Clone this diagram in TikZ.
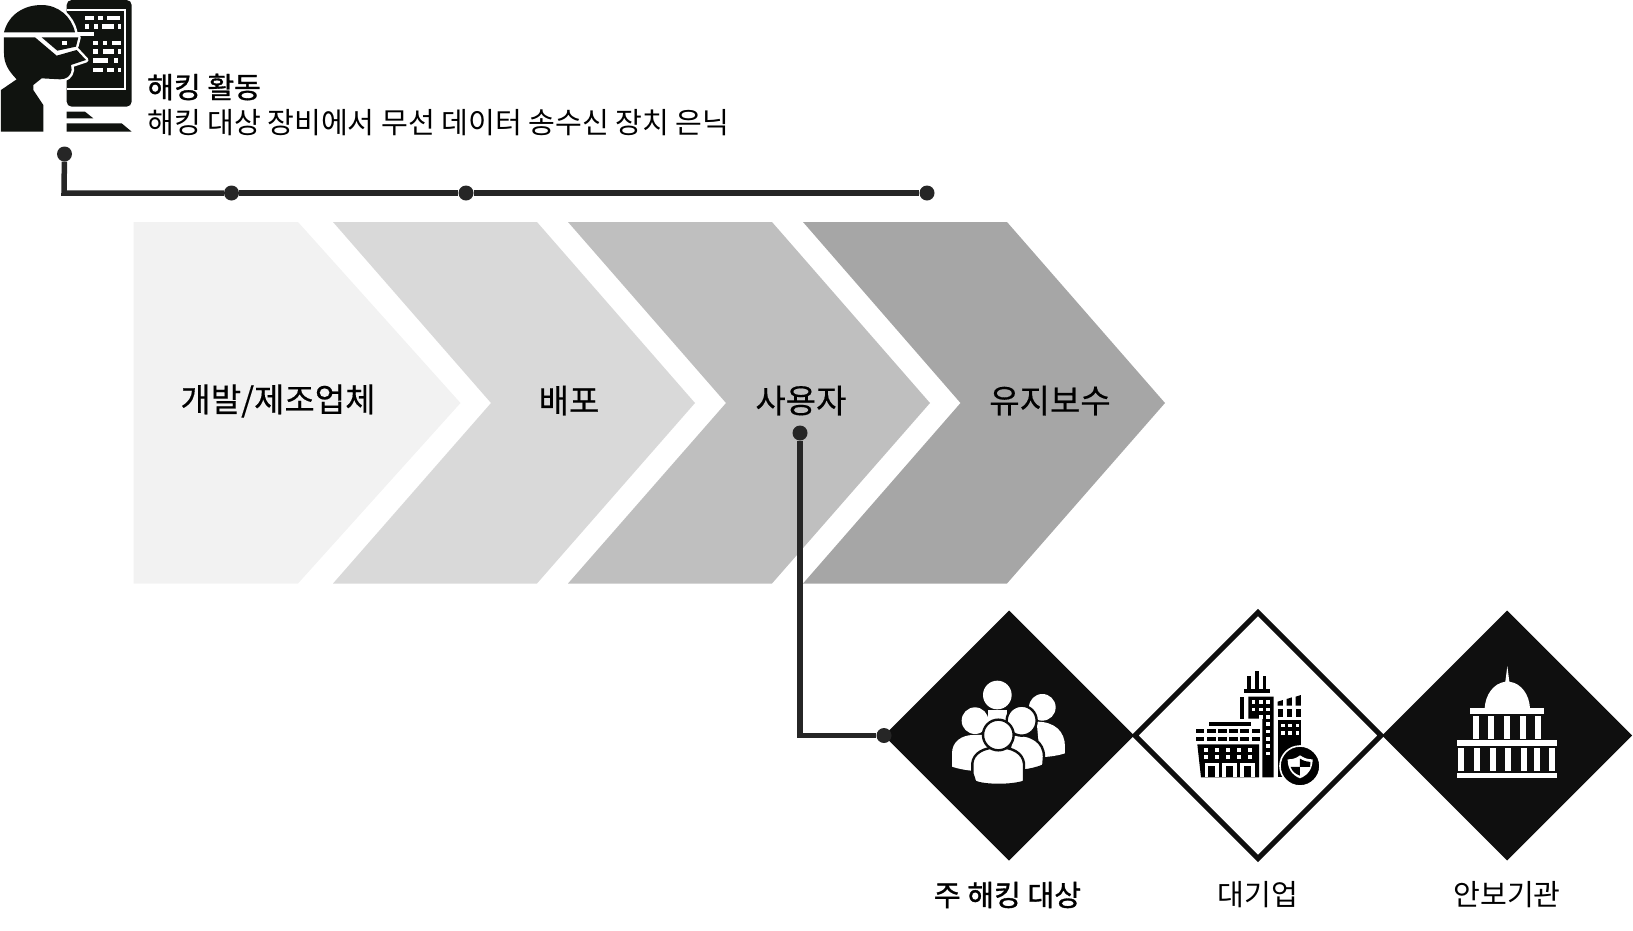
\documentclass[tikz,border=0pt]{standalone}
\usepackage{fontspec}
\setmainfont{Noto Sans CJK KR}
\newfontfamily\labelfont[FakeBold=0.35]{Noto Sans CJK KR}
\newfontfamily\titlefont[FakeBold=1.1]{Noto Sans CJK KR}
\usetikzlibrary{shapes.geometric}
\definecolor{iconblack}{HTML}{10130F}
\definecolor{shapeblack}{HTML}{0F0F0F}
\definecolor{linegray}{HTML}{262626}
\tikzset{
  dotnode/.style={circle,fill=linegray,inner sep=0pt,minimum size=15pt},
  link/.style={draw=linegray,line width=5.5pt,line join=miter},
  chevlabel/.style={font=\fontsize{33}{33}\labelfont,inner sep=0pt},
  biglabel/.style={font=\fontsize{29.15}{29}\selectfont,inner sep=0pt},
  titlelabel/.style={font=\fontsize{29.15}{29}\titlefont,inner sep=0pt},
  halo/.style={fill=iconblack,preaction={draw=white,line width=5pt,line join=round}},
  blackdiamond/.style={diamond,aspect=1,fill=shapeblack,inner sep=0pt,outer sep=0pt,minimum size=250pt},
  whitediamond/.style={diamond,aspect=1,draw=shapeblack,fill=white,line width=5pt,inner sep=0pt,outer sep=0pt,minimum size=246pt},
}
\begin{document}
\begin{tikzpicture}[x=1pt,y=-1pt]
  \useasboundingbox (0,0) rectangle (1633,930);
  % process chevrons
  \fill[black!5] (133.5,222) -- (298,222) -- (460.5,403) -- (298,583.5) -- (133.5,583.5) -- cycle;
  \fill[black!15] (333,222) -- (537,222) -- (695,403) -- (537,583.5) -- (333,583.5) -- (491,403) -- cycle;
  \fill[black!25] (568,222) -- (772,222) -- (930,403) -- (772,583.5) -- (568,583.5) -- (726,403) -- cycle;
  \fill[black!35] (803,222) -- (1007,222) -- (1165,403) -- (1007,583.5) -- (803,583.5) -- (960.5,403) -- cycle;
  \node[chevlabel] (maker) at (278,401) {개발/제조업체};
  \node[chevlabel] (deploy) at (569,400.5) {배포};
  \node[chevlabel] (user) at (801,400.5) {사용자};
  \node[chevlabel] (repair) at (1050,400.5) {유지보수};
  % hacking text
  \node[titlelabel,anchor=west] (hacktitle) at (147,87) {해킹 활동};
  \node[biglabel,anchor=west] (hacktext) at (147,122.5) {해킹 대상 장비에서 무선 데이터 송수신 장치 은닉};
  % target diamonds
  \node[blackdiamond] (main) at (1009,735.5) {};
  \node[whitediamond] (corp) at (1258,735.5) {};
  \node[blackdiamond] (gov) at (1507,735.5) {};
  \node[titlelabel] (maintext) at (1007.5,895) {주 해킹 대상};
  \node[biglabel] (corptext) at (1258,895) {대기업};
  \node[biglabel] (govtext) at (1507,895) {안보기관};
  % hacker icon
  \begin{scope}[x=0.3333pt,y=-0.3333pt,fill=iconblack]
    \fill[rounded corners=5pt] (200,0) -- (395,0) -- (395,320) -- (200,320) -- cycle;
    \draw[white,line width=2pt] (200,30) -- (375,30) -- (375,266) -- (200,266);
    \foreach \x/\y/\w in {255/47/27,295/47/13,322/47/38,255/73/13,282/73/13,307/73/36,355/73/7,280/122/15,308/122/14,335/122/27,280/148/15,308/148/35,355/148/7,280/175/45,342/175/13,280/203/28,320/203/23,355/203/7}
      \fill[white] (\x,\y) rectangle ++(\w,13);
    \fill[white] (225,97) rectangle (282,107);
    \fill (200,335) -- (255,335) -- (280,355) -- (200,355) -- cycle;
    \fill (200,370) -- (365,370) -- (395,395) -- (200,395) -- cycle;
    \path[halo] (3,395) -- (3,270) -- (50,238) .. controls (25,212) and (12,190) .. (12,160) -- (12,112)
      -- (105,112) -- (170,167) -- (230,150) -- (258,180) -- (213,195) -- (215,210) .. controls (212,228) and (200,238) .. (180,238)
      -- (125,235) -- (100,255) -- (100,270) -- (130,315) -- (130,395) -- cycle;
    \path[halo] (12,97) .. controls (25,45) and (70,15) .. (125,15) .. controls (175,15) and (215,50) .. (225,97) -- cycle;
    \path[halo] (125,112) -- (235,112) -- (228,140) -- (172,152) -- cycle;
    \fill[white] (185,122) rectangle (200,135);
  \end{scope}
  % users icon
  \begin{scope}[shift={(880,600)},x=0.3333pt,y=-0.3333pt]
    \fill[white] (487,322) circle (40);
    \fill[white] (470,365) .. controls (525,365) and (555,395) .. (555,440) -- (555,460) .. controls (530,468) and (510,470) .. (480,472) -- cycle;
    \fill[white] (352,285) circle (43);
    \fill[white] (325,330) rectangle (380,375);
    \fill[white] (285,362) circle (40);
    \fill[white] (216,500) -- (216,460) .. controls (216,425) and (245,405) .. (280,405) -- (330,405) -- (330,515) .. controls (285,515) and (245,510) .. (216,500) -- cycle;
    \fill[white,draw=shapeblack,line width=2.4pt] (400,403) .. controls (455,403) and (492,425) .. (492,470) -- (490,497) .. controls (470,505) and (450,510) .. (420,513) -- (380,480) -- cycle;
    \fill[white,draw=shapeblack,line width=2.4pt] (425,362) circle (45);
    \fill[white,draw=shapeblack,line width=2.4pt] (277,520) -- (277,490) .. controls (280,460) and (310,442) .. (355,442) .. controls (400,442) and (428,460) .. (432,490) -- (432,545) .. controls (400,558) and (310,558) .. (285,545) -- (277,520) -- cycle;
    \fill[white,draw=shapeblack,line width=2.4pt] (355,405) circle (46);
  \end{scope}
  % building icon
  \begin{scope}[shift={(1130,640)},x=0.3333pt,y=-0.3333pt,fill=black]
    \fill (350,148) rectangle (362,108);
    \fill (376,148) rectangle (387,93);
    \fill (398,148) rectangle (409,108);
    \fill (343,148) rectangle (421,160);
    \fill (331,170) rectangle (343,236);
    \fill (355,170) -- (431,170) -- (431,412) -- (397,412) -- (397,236) -- (355,236) -- cycle;
    \foreach \y in {180,203} \foreach \x in {365,387,409} \fill[white] (\x,\y) rectangle ++(11,11);
    \foreach \y in {225} \foreach \x in {387,409} \fill[white] (\x,\y) rectangle ++(11,11);
    \foreach \y in {247,269,291,313,335} \fill[white] (409,\y) rectangle ++(11,11);
    \fill (443,185) -- (459,180) -- (459,197) -- (443,197) -- cycle;
    \fill (470,177) -- (486,172) -- (486,197) -- (470,197) -- cycle;
    \fill (497,170) -- (513,165) -- (513,197) -- (497,197) -- cycle;
    \foreach \x in {443,470,497} \fill (\x,208) rectangle ++(16,22);
    \fill (443,241) rectangle (513,412);
    \foreach \y in {251,273} \foreach \x in {453,475,497} \fill[white] (\x,\y) rectangle ++(11,11);
    \fill (236,246) rectangle (364,258);
    \foreach \x in {197,232,265,298,331,365} {
      \fill (\x,268) rectangle ++(25,11);
      \fill (\x,291) rectangle ++(25,11);
    }
    \fill (202,313) -- (387,313) -- (387,412) -- (213,412) -- cycle;
    \foreach \y in {323,345} \foreach \x in {221,254,287,320,353} \fill[white] (\x,\y) rectangle ++(12,12);
    \fill[white] (224,368) rectangle (376,412);
    \foreach \x in {234,288,342} \fill (\x,379) rectangle ++(22,33);
    \foreach \x in {267,321} \fill (\x,368) rectangle ++(10,44);
    \fill[draw=white,line width=1.6pt] (510,378) circle (60);
    \fill[white] (510,346) .. controls (525,356) and (535,358) .. (548,358) .. controls (548,385) and (535,405) .. (510,415) .. controls (485,405) and (473,385) .. (473,358) .. controls (486,358) and (498,356) .. (510,346) -- cycle;
    \fill (510,356) -- (510,381) -- (540,381) .. controls (541,375) and (541,370) .. (541,366) .. controls (530,366) and (520,362) .. (510,356) -- cycle;
    \fill (482,381) .. controls (487,395) and (497,402) .. (510,407) -- (510,381) -- cycle;
  \end{scope}
  % capitol icon
  \begin{scope}[shift={(1400,640)},x=0.3333pt,y=-0.3333pt,fill=white]
    \fill (322,78) -- (328,125) .. controls (365,130) and (388,165) .. (390,205) -- (254,205) .. controls (256,165) and (280,130) .. (316,125) -- cycle;
    \fill (211,205) rectangle (432,222);
    \foreach \x in {219,265,312,359,405} \fill (\x,228) rectangle ++(18,68);
    \fill (171,301) rectangle (471,318);
    \foreach \x in {175,221,270,316,362,403,448} \fill (\x,324) rectangle ++(18,68);
    \fill (171,398) rectangle (471,414);
  \end{scope}
  % connectors
  \node[dotnode] (hackdot) at (64.5,154) {};
  \coordinate (hackcorner) at (64,193);
  \node[dotnode] (maker dot) at (231.5,193) {};
  \node[dotnode] (deploy dot) at (466,193) {};
  \node[dotnode] (repair dot) at (927,193) {};
  \node[dotnode] (user dot) at (800,433) {};
  \coordinate (usercorner) at (800,735.5);
  \node[dotnode] (main dot) at (884,735.5) {};
  \draw[link] (hackdot) -- (hackcorner) -- (maker dot);
  \draw[link] (maker dot) -- (deploy dot);
  \draw[link] (deploy dot) -- (repair dot);
  \draw[link] (user dot) -- (usercorner) -- (main dot);
\end{tikzpicture}
\end{document}
